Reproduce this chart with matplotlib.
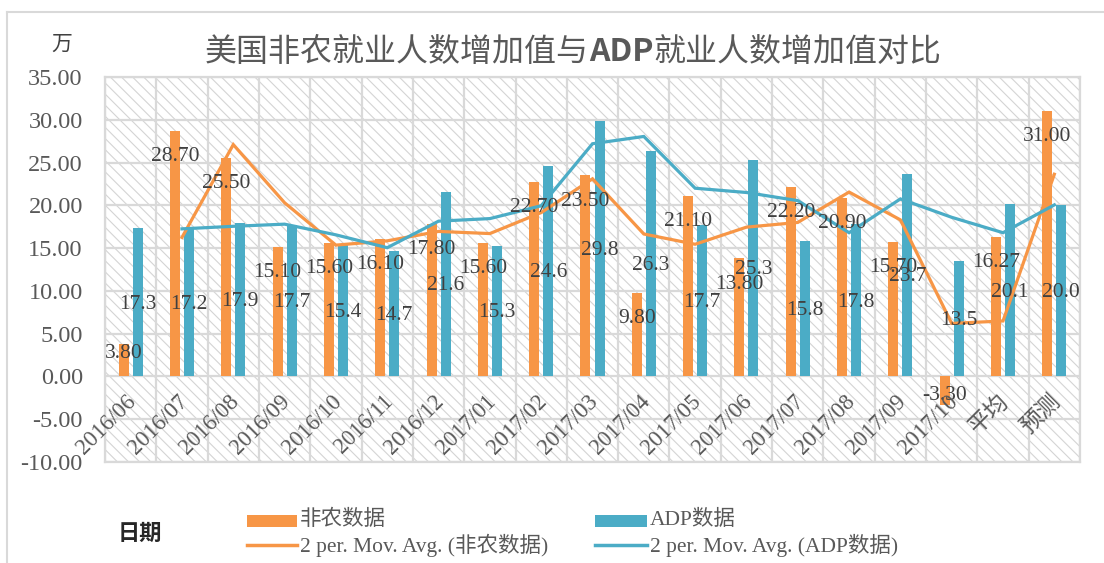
import matplotlib
matplotlib.use("Agg")
import matplotlib.pyplot as plt
import numpy as np
import pandas as pd
from matplotlib.patches import Rectangle
from matplotlib.lines import Line2D

categories = ["2016/06", "2016/07", "2016/08", "2016/09", "2016/10", "2016/11",
              "2016/12", "2017/01", "2017/02", "2017/03", "2017/04", "2017/05",
              "2017/06", "2017/07", "2017/08", "2017/09", "2017/10", "平均", "预测"]
nfp = [3.80, 28.70, 25.50, 15.10, 15.60, 16.10, 17.80, 15.60, 22.70, 23.50,
       9.80, 21.10, 13.80, 22.20, 20.90, 15.70, -3.30, 16.27, 31.00]
adp = [17.3, 17.2, 17.9, 17.7, 15.4, 14.7, 21.6, 15.3, 24.6, 29.8,
       26.3, 17.7, 25.3, 15.8, 17.8, 23.7, 13.5, 20.1, 20.0]
yticks = [-10, -5, 0, 5, 10, 15, 20, 25, 30, 35]

ORANGE = "#F79646"
BLUE = "#4BACC6"
GRID = "#d9d9d9"
TXT = "#595959"
LBL = "#404040"
SERIF = ["Liberation Serif", "Noto Sans CJK SC"]
CJK = ["Noto Sans CJK SC", "DejaVu Sans"]

plt.rcParams["hatch.linewidth"] = 0.8

W, H = 1104, 563
fig = plt.figure(figsize=(W / 100, H / 100), dpi=100)
fig.patch.set_facecolor("white")

def fx(px):
    return px / W

def fy(py):
    return 1 - py / H

ax = fig.add_axes([fx(105), fy(462), fx(1080) - fx(105), fy(77) - fy(462)])
ax.set_facecolor("white")

n = len(categories)
x = np.arange(n)

# hatched plot background
bg = Rectangle((0, 0), 1, 1, transform=ax.transAxes, facecolor="white",
               edgecolor="#d4d4d4", hatch="\\" * 3, lw=0, zorder=0.1)
ax.add_patch(bg)

bw = 0.195
off = 0.137
ax.bar(x - off, nfp, width=bw, color=ORANGE, zorder=2)
ax.bar(x + off, adp, width=bw, color=BLUE, zorder=2)

ma_nfp = pd.Series(nfp).rolling(2).mean()
ma_adp = pd.Series(adp).rolling(2).mean()
ax.plot(x[1:], ma_nfp[1:], color=ORANGE, lw=2.3, zorder=3, solid_joinstyle="miter")
ax.plot(x[1:], ma_adp[1:], color=BLUE, lw=2.3, zorder=3, solid_joinstyle="miter")

# data labels
for i, v in enumerate(nfp):
    if abs(v) < 5:
        ly = v - np.sign(v) * 1.1
    else:
        ly = v - 3.0
    ax.text(i - off, ly, f"{v:.2f}", ha="center", va="center", fontsize=15.5,
            color=LBL, family=SERIF, zorder=5)
for i, v in enumerate(adp):
    ax.text(i + off, v / 2 - 0.2, f"{v:.1f}", ha="center", va="center", fontsize=15.5,
            color=LBL, family=SERIF, zorder=5)

# x category labels (placed under the zero line)
for i, c in enumerate(categories):
    ax.text(i + 0.05, -2.6, c, rotation=45, rotation_mode="anchor", ha="right",
            va="center", fontsize=16.5, color=TXT, family=SERIF, zorder=5)

ax.set_xlim(-0.5, n - 0.5)
ax.set_ylim(-10, 35)
ax.set_yticks(yticks)
ax.set_yticklabels([f"{t:.2f}" for t in yticks], family=SERIF, fontsize=17.5, color=TXT)
ax.set_xticks(np.arange(-0.5, n, 1.0))
ax.set_xticklabels([])
ax.tick_params(axis="both", length=0)
ax.tick_params(axis="y", pad=16)
ax.set_axisbelow(True)
ax.grid(True, color=GRID, lw=1.6, zorder=0.5)
for s in ax.spines.values():
    s.set_color(GRID)
    s.set_linewidth(1.6)

# chart border
fig.add_artist(Line2D([fx(7), fx(7)], [fy(12), 0], color=GRID, lw=1.5))
fig.add_artist(Line2D([fx(7), 1], [fy(12), fy(12)], color=GRID, lw=1.5))

# unit label
fig.text(fx(62), fy(44), "万", fontsize=15, color=LBL, family=CJK, ha="center", va="center")

# title in pieces (ADP bold), centered
fig.canvas.draw()
renderer = fig.canvas.get_renderer()
parts = [("美国非农就业人数增加值与", "normal"), ("ADP", "bold"), ("就业人数增加值对比", "normal")]
texts = []
cur = 0.0
for t, wgt in parts:
    tt = fig.text(cur, fy(52), t, fontsize=23, color=TXT, family=CJK, weight=wgt,
                  ha="left", va="center")
    bb = tt.get_window_extent(renderer=renderer)
    texts.append(tt)
    cur = bb.x1 / W
total = cur
start = fx(573) - total / 2
for tt in texts:
    x0, y0 = tt.get_position()
    tt.set_position((x0 + start, y0))

# legend (bottom)
fig.text(fx(140), fy(533), "日期", fontsize=16, color="#262626", family=CJK,
         weight="bold", ha="center", va="center")
fig.add_artist(Rectangle((fx(247), fy(527)), fx(297) - fx(247), fy(515) - fy(527),
                         transform=fig.transFigure, facecolor=ORANGE, lw=0))
fig.add_artist(Rectangle((fx(595), fy(527)), fx(647) - fx(595), fy(515) - fy(527),
                         transform=fig.transFigure, facecolor=BLUE, lw=0))
fig.add_artist(Line2D([fx(247), fx(297)], [fy(545), fy(545)], color=ORANGE, lw=2.5))
fig.add_artist(Line2D([fx(595), fx(647)], [fy(545), fy(545)], color=BLUE, lw=2.5))
leg_items = [(300, 520, "非农数据"), (650, 520, "ADP数据"),
             (300, 545, "2 per. Mov. Avg. (非农数据)"), (650, 545, "2 per. Mov. Avg. (ADP数据)")]
for px, py, t in leg_items:
    fig.text(fx(px), fy(py), t, fontsize=15.5, color=TXT, family=SERIF,
             ha="left", va="center")

fig.savefig("out.png", dpi=100, facecolor="white")
